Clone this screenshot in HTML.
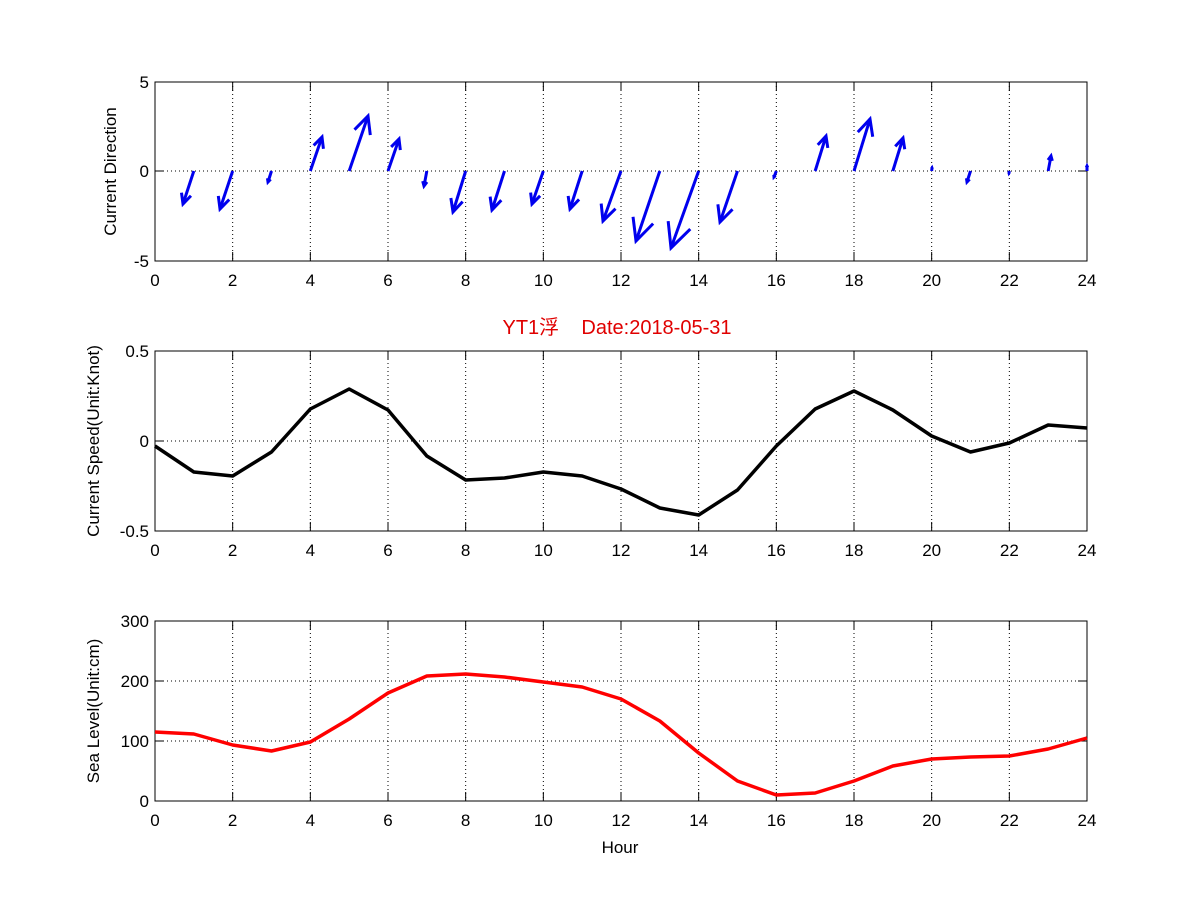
<!DOCTYPE html>
<html><head><meta charset="utf-8"><style>
body{margin:0;background:#fff}
svg text{font-family:"Liberation Sans","Noto Sans CJK SC",sans-serif;font-size:17px}
</style></head><body>
<svg id="s" width="1201" height="901" xmlns="http://www.w3.org/2000/svg">
<rect width="1201" height="901" fill="#fff"/>
<text x="617" y="334" text-anchor="middle" fill="#e00000" style="font-size:20px;white-space:pre">YT1浮    Date:2018-05-31</text>
</svg>
<script>
const s=document.getElementById('s');const NS='http://www.w3.org/2000/svg';
function el(t,a,txt){const e=document.createElementNS(NS,t);for(const k in a)e.setAttribute(k,a[k]);if(txt!==undefined)e.textContent=txt;s.appendChild(e);return e;}
const X0=155,X1=1087,px=h=>X0+(X1-X0)*h/24;
function axes(y0,y1,yt,ylab,lab){
 for(let h=2;h<24;h+=2)el('line',{x1:px(h),x2:px(h),y1:y0,y2:y1,stroke:'#000','stroke-dasharray':'1,3','stroke-width':1});
 yt.forEach(([v,y])=>{if(y>y0+1&&y<y1-1)el('line',{x1:X0,x2:X1,y1:y,y2:y,stroke:'#000','stroke-dasharray':'1,3','stroke-width':1});});
 el('rect',{x:X0,y:y0,width:X1-X0,height:y1-y0,fill:'none',stroke:'#000','stroke-width':1});
 for(let h=0;h<=24;h+=2){const x=px(h);el('line',{x1:x,x2:x,y1:y1,y2:y1-9,stroke:'#000'});el('line',{x1:x,x2:x,y1:y0,y2:y0+9,stroke:'#000'});el('text',{x:x,y:y1+25,'text-anchor':'middle'},h);}
 yt.forEach(([v,y])=>{el('line',{x1:X0,x2:X0+9,y1:y,y2:y,stroke:'#000'});el('line',{x1:X1,x2:X1-9,y1:y,y2:y,stroke:'#000'});el('text',{x:X0-6,y:y+6,'text-anchor':'end'},v);});
 const cy=(y0+y1)/2;el('text',{x:0,y:0,'text-anchor':'middle',transform:`translate(${lab},${cy}) rotate(-90)`},ylab);
}
axes(82,261,[[5,82],[0,171],[-5,261]],'Current Direction',116);
axes(351,531,[['0.5',351],['0',441],['-0.5',531]],'Current Speed(Unit:Knot)',99);
axes(621,801,[[300,621],[200,681],[100,741],[0,801]],'Sea Level(Unit:cm)',99);
el('text',{x:620,y:853,'text-anchor':'middle'},'Hour');
const tips={1:[183,204],2:[220,209],3:[268,182],4:[322,137],5:[368,116],6:[399,139],7:[424,186],8:[453,212],9:[492,210],10:[532,204],11:[570,209],12:[603,221],13:[636,241],14:[671,248],15:[720,222],16:[774,177],17:[826,136],18:[870,119],19:[903,138],20:[932,168],21:[967,182],22:[1009,173],23:[1051,156],24:[1087,166]};
for(const h in tips){const sx=px(+h),sy=171,[tx,ty]=tips[h];const dx=tx-sx,dy=ty-sy,L=Math.hypot(dx,dy);
 const a=Math.atan2(dy,dx),hl=L*0.33,ang=0.45;
 const p1=[tx-hl*Math.cos(a-ang),ty-hl*Math.sin(a-ang)],p2=[tx-hl*Math.cos(a+ang),ty-hl*Math.sin(a+ang)];
 el('line',{x1:sx,y1:sy,x2:tx,y2:ty,stroke:'#0000ee','stroke-width':3});
 el('polyline',{points:`${p1} ${tx},${ty} ${p2}`,fill:'none',stroke:'#0000ee','stroke-width':3});}
const sp=[446,472,476,452,409,389,410,456,480,478,472,476,489,508,515,490,446,409,391,410,436,452,443,425,428];
el('polyline',{points:sp.map((y,i)=>px(i)+','+y).join(' '),fill:'none',stroke:'#000','stroke-width':3.5,'stroke-linejoin':'round'});
const sl=[732,734,745,751,742,719,693,676,674,677,682,687,699,721,753,781,795,793,781,766,759,757,756,749,738];
el('polyline',{points:sl.map((y,i)=>px(i)+','+y).join(' '),fill:'none',stroke:'#ff0000','stroke-width':3.5,'stroke-linejoin':'round'});
</script>
</body></html>
